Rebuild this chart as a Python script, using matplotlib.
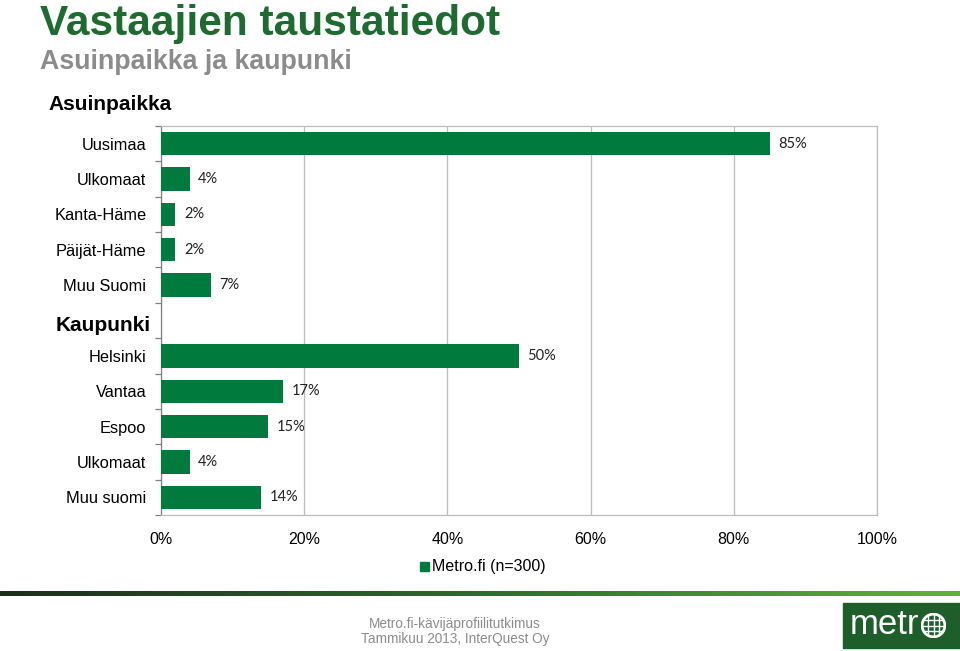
import numpy as np
import matplotlib
matplotlib.use('Agg')
import matplotlib.pyplot as plt
from matplotlib.patches import Rectangle, Circle
from matplotlib.colors import LinearSegmentedColormap

plt.rcParams['font.family'] = ['Liberation Sans', 'DejaVu Sans']

# data
asuin_labels = ['Uusimaa', 'Ulkomaat', 'Kanta-Häme', 'Päijät-Häme', 'Muu Suomi']
asuin_values = [85, 4, 2, 2, 7]
kaupunki_labels = ['Helsinki', 'Vantaa', 'Espoo', 'Ulkomaat', 'Muu suomi']
kaupunki_values = [50, 17, 15, 4, 14]
x_ticks = [0, 20, 40, 60, 80, 100]
series_name = 'Metro.fi (n=300)'

bar_green = '#007A3D'
title_green = '#1E6B30'

fig = plt.figure(figsize=(9.6, 6.51), dpi=100)
fig.patch.set_facecolor('white')

ax = fig.add_axes([161 / 960, 1 - 515 / 651, 716 / 960, 389 / 651])

labels = asuin_labels + [''] + kaupunki_labels
values = asuin_values + [None] + kaupunki_values
ypos = np.arange(len(labels))

for y, v in zip(ypos, values):
    if v is None:
        continue
    ax.barh(y, v, height=0.66, color=bar_green, zorder=3)
    ax.text(v + 1.2, y, f'{v}%', va='center', ha='left', fontsize=10.5,
            family=['Lato', 'DejaVu Sans'], color='#222222')

ax.set_xlim(0, 100)
ax.set_ylim(len(labels) - 0.5, -0.5)
ax.set_xticks(x_ticks)
ax.set_xticklabels([f'{t}%' for t in x_ticks], fontsize=11.5)
ax.tick_params(axis='x', length=0, pad=12)
ax.xaxis.grid(True, color='#BDBDBD', linewidth=0.9, zorder=0)
ax.set_axisbelow(True)

ax.set_yticks(ypos)
ax.set_yticklabels(labels, fontsize=11.8)
ax.tick_params(axis='y', length=0, pad=10.5)
ax.set_yticks(np.arange(-0.5, len(labels) + 0.5, 1), minor=True)
ax.tick_params(axis='y', which='minor', length=4, color='#808080', width=0.9)

for side in ['top', 'right', 'bottom']:
    ax.spines[side].set_color('#BDBDBD')
    ax.spines[side].set_linewidth(0.9)
ax.spines['left'].set_color('#808080')
ax.spines['left'].set_linewidth(0.9)

# section headings
fig.text(48 / 960, 1 - 110 / 651, 'Asuinpaikka', fontsize=15, fontweight='bold',
         va='baseline', ha='left', color='black')
fig.text(151 / 960, 1 - 331 / 651, 'Kaupunki', fontsize=15, fontweight='bold',
         va='baseline', ha='right', color='black')

# titles
fig.text(40 / 960, 1 - 35 / 651, 'Vastaajien taustatiedot', fontsize=30.5,
         fontweight='bold', color=title_green, va='baseline', ha='left')
fig.text(40 / 960, 1 - 69 / 651, 'Asuinpaikka ja kaupunki', fontsize=19.3,
         fontweight='bold', color='#8C8C8C', va='baseline', ha='left')

# legend
fig.patches.append(Rectangle((420 / 960, 1 - 571 / 651), 9 / 960, 9 / 651,
                             transform=fig.transFigure, color=bar_green))
fig.text(432 / 960, 1 - 566 / 651, series_name, fontsize=11.5,
         va='center', ha='left', color='black')

# footer gradient line
gax = fig.add_axes([0, 1 - 596 / 651, 1, 5 / 651])
grad = np.linspace(0, 1, 256).reshape(1, -1)
cmap = LinearSegmentedColormap.from_list('g', ['#1B2E1B', '#2E6B2E', '#5DB33A'])
gax.imshow(grad, aspect='auto', cmap=cmap)
gax.axis('off')

fig.text(455 / 960, 1 - 624 / 651, 'Metro.fi-kävijäprofiilitutkimus', fontsize=9.8,
         color='#8C8C8C', ha='center', va='center')
fig.text(455 / 960, 1 - 639 / 651, 'Tammikuu 2013, InterQuest Oy', fontsize=9.8,
         color='#8C8C8C', ha='center', va='center')

# metro logo
fig.patches.append(Rectangle((843 / 960, 1 - 648 / 651), 117 / 960, 45 / 651,
                             transform=fig.transFigure, color='#1D5E2A'))
fig.text(850 / 960, 1 - 624 / 651, 'metr', fontsize=25,
         color='white', ha='left', va='center')
lax = fig.add_axes([921 / 960, 1 - 638 / 651, 25 / 960, 25 / 651], zorder=5)
lax.set_xlim(-1.1, 1.1)
lax.set_ylim(-1.1, 1.1)
lax.set_aspect('equal')
lax.axis('off')
lax.add_patch(Circle((0, 0), 1, fill=False, ec='white', lw=2))
for v in [-0.5, 0, 0.5]:
    h = np.sqrt(1 - v * v)
    lax.plot([v, v], [-h, h], color='white', lw=1)
    lax.plot([-h, h], [v, v], color='white', lw=1)

fig.savefig('out.png', dpi=100, facecolor='white')
